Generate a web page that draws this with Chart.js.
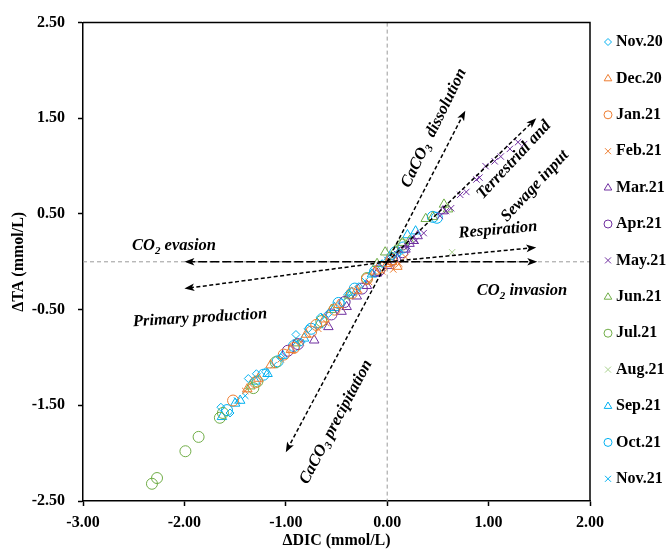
<!DOCTYPE html>
<html>
<head>
<meta charset="utf-8">
<script src="https://cdn.jsdelivr.net/npm/chart.js@4.4.1/dist/chart.umd.min.js"></script>
<style>
  body { margin: 0; background: #fff; }
  #wrap { width: 669px; height: 550px; }
</style>
</head>
<body>
<div id="wrap"><canvas id="myChart" width="669" height="550"></canvas></div>
<script>
// tick labels
const xTicks = [-3, -2, -1, 0, 1, 2];
const yTicks = [2.5, 1.5, 0.5, -0.5, -1.5, -2.5];

// months (legend order)
const months = ['Nov.20', 'Dec.20', 'Jan.21', 'Feb.21', 'Mar.21', 'Apr.21', 'May.21',
  'Jun.21', 'Jul.21', 'Aug.21', 'Sep.21', 'Oct.21', 'Nov.21'];

// [ΔDIC, ΔTA] pairs
const nov20 = [[-1.64, -1.52], [-1.55, -1.58], [-1.37, -1.22], [-1.29, -1.17], [-1.20, -1.15], [-1.05, -1.00],
  [-0.90, -0.76], [-0.85, -0.84], [-0.78, -0.70], [-0.66, -0.58], [-0.58, -0.54], [-0.45, -0.43],
  [-0.38, -0.33], [-0.28, -0.26], [-0.15, -0.12], [-0.05, -0.02], [0.05, 0.06], [0.12, 0.10]];
const dec20 = [[-1.38, -1.33], [-1.27, -1.22], [-1.15, -1.08], [-0.95, -0.92], [-0.80, -0.76], [-0.62, -0.60],
  [-0.48, -0.45], [-0.30, -0.30], [-0.12, -0.10], [0.00, -0.02], [0.05, 0.00], [0.10, -0.05]];
const jan21 = [[-1.52, -1.45], [-1.30, -1.26], [-1.02, -0.97], [-0.92, -0.90], [-0.75, -0.73], [-0.70, -0.66],
  [-0.52, -0.50], [-0.35, -0.33], [-0.20, -0.18], [-0.06, -0.06], [0.04, 0.02]];
const feb21 = [[-1.40, -1.35], [-1.05, -1.02], [-0.85, -0.84], [-0.68, -0.70], [-0.60, -0.64], [-0.45, -0.47],
  [-0.28, -0.29], [-0.18, -0.21], [-0.05, -0.10], [0.06, -0.08], [0.12, -0.02], [0.18, 0.05]];
const mar21 = [[-0.72, -0.82], [-0.58, -0.68], [-0.45, -0.52], [-0.40, -0.47], [-0.30, -0.36], [-0.20, -0.25],
  [-0.10, -0.12], [0.02, -0.04], [0.10, 0.03], [0.18, 0.13], [0.22, 0.19], [0.26, 0.22], [0.30, 0.27], [0.55, 0.53]];
const apr21 = [[-0.98, -0.93], [-0.88, -0.86], [-0.55, -0.55], [-0.42, -0.42], [-0.25, -0.28], [-0.08, -0.09],
  [0.05, 0.02], [0.15, 0.10]];
const may21 = [[0.10, 0.08], [0.20, 0.16], [0.28, 0.22], [0.36, 0.30], [0.52, 0.48], [0.58, 0.53], [0.63, 0.56],
  [0.72, 0.70], [0.78, 0.73], [0.88, 0.86], [0.91, 0.88], [0.97, 1.00], [1.06, 1.05], [1.12, 1.10],
  [1.21, 1.18], [1.29, 1.25], [1.35, 1.23]];
const jun21 = [[-1.35, -1.30], [-0.90, -0.85], [-0.55, -0.50], [-0.38, -0.35], [-0.10, -0.02], [-0.02, 0.10],
  [0.08, 0.12], [0.15, 0.20], [0.22, 0.22], [0.38, 0.45], [0.45, 0.47], [0.56, 0.60], [0.60, 0.55]];
const jul21 = [[-2.32, -2.32], [-2.27, -2.26], [-1.99, -1.98], [-1.86, -1.83], [-1.65, -1.63], [-1.62, -1.58],
  [-1.32, -1.32], [-1.28, -1.25], [-1.10, -1.05], [-0.65, -0.62], [-0.20, -0.17], [0.15, 0.18]];
const aug21 = [[0.64, 0.10], [-0.40, -0.38], [0.02, 0.00]];
const sep21 = [[-1.63, -1.62], [-1.50, -1.48], [-1.45, -1.45], [-1.30, -1.25], [-1.18, -1.17], [-1.03, -0.98],
  [-0.82, -0.80], [-0.68, -0.66], [-0.52, -0.48], [-0.35, -0.32], [-0.15, -0.13], [0.02, 0.05], [0.20, 0.28], [0.28, 0.32]];
const oct21 = [[-1.58, -1.55], [-1.22, -1.18], [-1.08, -1.04], [-0.92, -0.88], [-0.75, -0.70], [-0.48, -0.43],
  [-0.32, -0.28], [-0.12, -0.10], [0.08, 0.10], [0.16, 0.15], [0.45, 0.47], [0.49, 0.46]];
const nov21 = [[-1.48, -1.45], [-1.40, -1.40], [-1.12, -1.08], [-0.90, -0.84], [-0.62, -0.57], [-0.40, -0.37],
  [-0.22, -0.20], [0.00, 0.02], [0.10, 0.08]];

const seriesData = [nov20, dec20, jan21, feb21, mar21, apr21, may21, jun21, jul21, aug21, sep21, oct21, nov21];

// process arrows, from the origin to these ends
const arrowEnds = [[-2.0, 0], [1.48, 0], [-2.0, -0.28], [1.47, 0.15], [0.77, 1.58], [1.47, 1.5], [-1.0, -1.99]];

const blue = '#00b0f0', orange = '#ed7d31', purple = '#7030a0', green = '#70ad47', lgreen = '#a9d18e';
const colors = [blue, orange, orange, orange, purple, purple, purple, green, green, lgreen, blue, blue, blue];
const shapes = ['rectRot', 'triangle', 'circle', 'crossRot', 'triangle', 'circle', 'crossRot',
  'triangle', 'circle', 'crossRot', 'triangle', 'circle', 'crossRot'];
const sizes = { rectRot: 4, triangle: 5.5, circle: 5.5, crossRot: 4.5 };

const serif = "'Liberation Serif', 'Times New Roman', serif";

function drawMarker(ctx, shape, x, y, r, color) {
  ctx.save();
  ctx.strokeStyle = color;
  ctx.lineWidth = 1;
  ctx.beginPath();
  if (shape === 'circle') {
    ctx.arc(x, y, r, 0, Math.PI * 2);
  } else if (shape === 'triangle') {
    ctx.moveTo(x, y - r);
    ctx.lineTo(x + r * 0.95, y + r * 0.6);
    ctx.lineTo(x - r * 0.95, y + r * 0.6);
    ctx.closePath();
  } else if (shape === 'rectRot') {
    ctx.moveTo(x, y - r); ctx.lineTo(x + r, y); ctx.lineTo(x, y + r); ctx.lineTo(x - r, y); ctx.closePath();
  } else {
    const d = r * 0.75;
    ctx.moveTo(x - d, y - d); ctx.lineTo(x + d, y + d);
    ctx.moveTo(x + d, y - d); ctx.lineTo(x - d, y + d);
  }
  ctx.stroke();
  ctx.restore();
}

// text with subscript segments: [[text, isSub], ...]
function drawRich(ctx, parts, x, y, angle, size) {
  ctx.save();
  ctx.translate(x, y);
  ctx.rotate(angle * Math.PI / 180);
  ctx.fillStyle = '#000';
  ctx.textBaseline = 'middle';
  ctx.textAlign = 'left';
  const big = 'italic bold ' + size + 'px ' + serif;
  const small = 'italic bold ' + Math.round(size * 0.65) + 'px ' + serif;
  let w = 0;
  parts.forEach(p => { ctx.font = p[1] ? small : big; w += ctx.measureText(p[0]).width; });
  let cx = -w / 2;
  parts.forEach(p => {
    ctx.font = p[1] ? small : big;
    ctx.fillText(p[0], cx, p[1] ? size * 0.3 : 0);
    cx += ctx.measureText(p[0]).width;
  });
  ctx.restore();
}

const decor = {
  id: 'decor',
  beforeDatasetsDraw(chart) {
    const { ctx, chartArea: a, scales: { x, y } } = chart;
    ctx.save();
    ctx.strokeStyle = '#9a9a9a';
    ctx.lineWidth = 1;
    ctx.setLineDash([4, 3]);
    ctx.beginPath();
    ctx.moveTo(x.getPixelForValue(0), a.top); ctx.lineTo(x.getPixelForValue(0), a.bottom);
    ctx.moveTo(a.left, y.getPixelForValue(0)); ctx.lineTo(a.right, y.getPixelForValue(0));
    ctx.stroke();
    ctx.restore();
  },
  afterDatasetsDraw(chart) {
    const { ctx, chartArea: a, scales: { x, y } } = chart;
    const ox = x.getPixelForValue(0), oy = y.getPixelForValue(0);
    arrowEnds.forEach((e, i) => {
      const ex = x.getPixelForValue(e[0]), ey = y.getPixelForValue(e[1]);
      const ang = Math.atan2(ey - oy, ex - ox);
      ctx.save();
      ctx.strokeStyle = '#000';
      ctx.fillStyle = '#000';
      ctx.lineWidth = 1.5;
      ctx.setLineDash(i < 2 ? [9, 3] : [4, 2.5]);
      ctx.beginPath();
      ctx.moveTo(ox, oy);
      ctx.lineTo(ex - 6 * Math.cos(ang), ey - 6 * Math.sin(ang));
      ctx.stroke();
      ctx.setLineDash([]);
      ctx.translate(ex, ey);
      ctx.rotate(ang);
      ctx.beginPath();
      ctx.moveTo(0, 0); ctx.lineTo(-10, -3.8); ctx.lineTo(-7.5, 0); ctx.lineTo(-10, 3.8);
      ctx.closePath();
      ctx.fill();
      ctx.restore();
    });

    // frame top + right
    ctx.save();
    ctx.strokeStyle = '#000';
    ctx.lineWidth = 1.5;
    ctx.beginPath();
    ctx.moveTo(a.left, a.top); ctx.lineTo(a.right, a.top); ctx.lineTo(a.right, a.bottom);
    ctx.stroke();
    ctx.restore();

    // annotations
    drawRich(ctx, [['CO', 0], ['2', 1], [' evasion', 0]], 174, 246, 0, 16.5);
    drawRich(ctx, [['Primary production', 0]], 200, 318, -3.5, 16.5);
    drawRich(ctx, [['CO', 0], ['2', 1], [' invasion', 0]], 522, 291, 0, 16.5);
    drawRich(ctx, [['Respiration', 0]], 498, 230, -5, 16.5);
    drawRich(ctx, [['Terrestrial and', 0]], 514, 160, -47, 16.5);
    drawRich(ctx, [['Sewage input', 0]], 535, 186, -47, 16.5);
    drawRich(ctx, [['CaCO', 0], ['3', 1], ['  dissolution', 0]], 434, 128, -64, 16.5);
    drawRich(ctx, [['CaCO', 0], ['3', 1], [' precipitation', 0]], 336, 422, -62, 16.5);

    // legend
    ctx.save();
    ctx.font = 'bold 16px ' + serif;
    ctx.fillStyle = '#000';
    ctx.textBaseline = 'middle';
    months.forEach((m, i) => {
      const ly = 42 + i * 36.4;
      drawMarker(ctx, shapes[i], 608, ly, shapes[i] === 'rectRot' ? 3.5 : 4, colors[i]);
      ctx.fillText(m, 616, ly);
    });
    ctx.restore();
  }
};

const datasets = seriesData.map((d, i) => ({
  label: months[i],
  data: d.map(p => ({ x: p[0], y: p[1] })),
  pointStyle: shapes[i],
  pointRadius: sizes[shapes[i]],
  pointHoverRadius: sizes[shapes[i]],
  borderColor: colors[i],
  backgroundColor: 'rgba(0,0,0,0)',
  pointBorderWidth: 1,
  showLine: false
}));

const tickFont = { family: serif, size: 16, weight: 'bold' };

new Chart(document.getElementById('myChart'), {
  type: 'scatter',
  data: { datasets: datasets },
  options: {
    responsive: false,
    animation: false,
    layout: { padding: { left: 0, right: 79, top: 21, bottom: 0 } },
    plugins: { legend: { display: false }, tooltip: { enabled: false } },
    scales: {
      x: {
        type: 'linear', min: -3, max: 2,
        afterBuildTicks: (s) => { s.ticks = xTicks.map(v => ({ value: v })); },
        afterFit: (s) => { s.height = 49; },
        ticks: { font: tickFont, color: '#000', padding: 7, callback: (v) => v.toFixed(2) },
        grid: { drawOnChartArea: false, color: '#000', tickLength: 5, tickWidth: 1.5 },
        border: { color: '#000', width: 1.5 },
        title: { display: true, text: 'ΔDIC (mmol/L)', font: tickFont, color: '#000', padding: 0 }
      },
      y: {
        type: 'linear', min: -2.5, max: 2.5,
        afterBuildTicks: (s) => { s.ticks = yTicks.map(v => ({ value: v })); },
        afterFit: (s) => { s.width = 83; },
        ticks: { font: tickFont, color: '#000', padding: 13, callback: (v) => v.toFixed(2) },
        grid: { drawOnChartArea: false, color: '#000', tickLength: 5, tickWidth: 1.5 },
        border: { color: '#000', width: 1.5 },
        title: { display: true, text: 'ΔTA (mmol/L)', font: tickFont, color: '#000', padding: { top: 9, bottom: 0 } }
      }
    }
  },
  plugins: [decor]
});
</script>
</body>
</html>
